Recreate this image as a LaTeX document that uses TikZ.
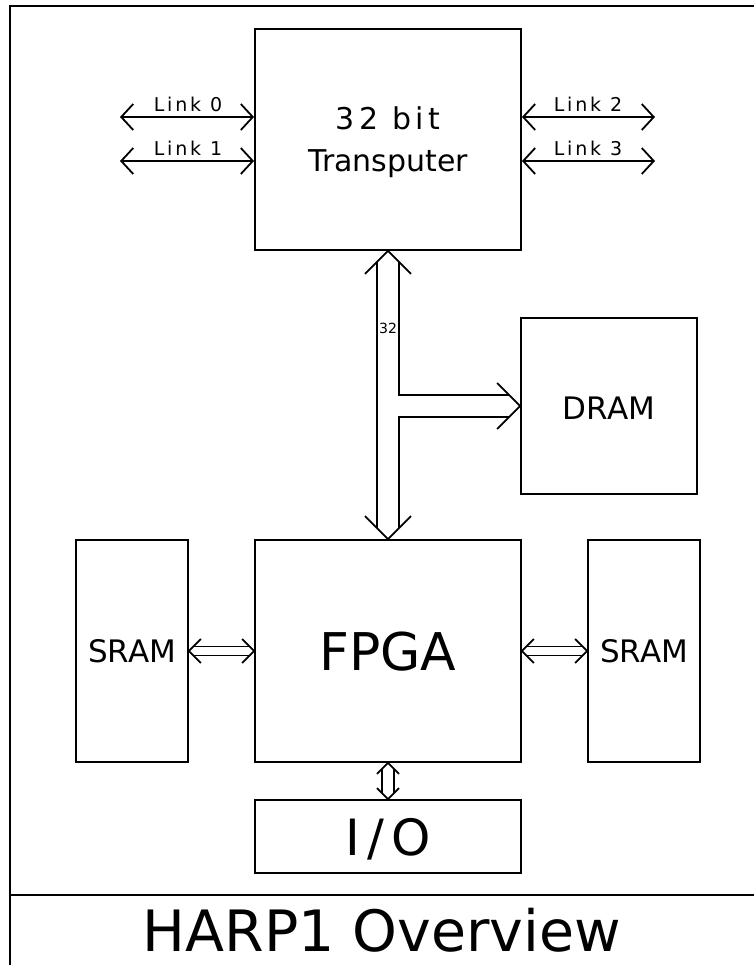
\documentclass[tikz,border=0pt]{standalone}
\usepackage{fontspec}
\setmainfont{DejaVu Sans}
\newfontfamily\lsfont[LetterSpace=15]{DejaVu Sans}
\usetikzlibrary{arrows.meta,calc}
\tikzset{
  blk/.style={draw,line width=1.9pt,inner sep=0pt,rectangle},
  txt/.style={anchor=base,inner sep=0pt},
  linkarr/.style={line width=1.8pt,{Straight Barb[length=12pt,width=26pt]}-{Straight Barb[length=12pt,width=26pt]}},
  hollow/.style={line width=1.8pt},
  frame/.style={line width=2pt}
}
\newcommand{\fs}[1]{\fontsize{#1}{#1}\selectfont}
\begin{document}
\begin{tikzpicture}[x=1pt,y=-1pt]
\useasboundingbox (0,0) rectangle (754,965);
% frame
\draw[frame] (10,965) -- (10,6) -- (754,6);
\draw[frame] (10,895) -- (754,895);
% blocks
\node[blk,minimum width=266pt,minimum height=221pt] (tp) at (388,139.5) {};
\node[blk,minimum width=176pt,minimum height=176pt] (dram) at (609,406) {};
\node[blk,minimum width=266pt,minimum height=222pt] (fpga) at (388,651) {};
\node[blk,minimum width=112pt,minimum height=222pt] (sl) at (132,651) {};
\node[blk,minimum width=112pt,minimum height=222pt] (sr) at (644,651) {};
\node[blk,minimum width=266pt,minimum height=73pt] (io) at (388,836.5) {};
% texts
\node[txt] (t32) at (388,130) {\lsfont\fs{30}32 bit};
\node[txt] (ttp) at (388,172) {\fs{30}Transputer};
\node[txt] (tdram) at (609,419) {\fs{31}DRAM};
\node[txt] (tsl) at (132,662) {\fs{31}SRAM};
\node[txt] (tsr) at (644,662) {\fs{31}SRAM};
\node[txt] (tfpga) at (388,670) {\fs{52}FPGA};
\node[txt] (tio) at (388,855) {\lsfont\fs{50}I/O};
\node[txt] (title) at (382,951) {\fs{57}HARP1 Overview};
\node[txt] (bus) at (388,333) {\fs{14}32};
% links
\coordinate (l0) at (120,117);
\coordinate (l1) at (120,161);
\coordinate (l2) at (655,117);
\coordinate (l3) at (655,161);
\draw[linkarr] (l0) -- (l0 -| tp.west);
\draw[linkarr] (l1) -- (l1 -| tp.west);
\draw[linkarr] (l2 -| tp.east) -- (l2);
\draw[linkarr] (l3 -| tp.east) -- (l3);
\node[txt] (tl0) at (188,112) {\lsfont\fs{19}Link 0};
\node[txt] (tl1) at (188,156) {\lsfont\fs{19}Link 1};
\node[txt] (tl2) at (588,112) {\lsfont\fs{19}Link 2};
\node[txt] (tl3) at (588,156) {\lsfont\fs{19}Link 3};
% bus transputer - fpga - dram
\draw[hollow] ($(tp.south)+(-23,23)$) -- (tp.south) -- ($(tp.south)+(23,23)$);
\draw[hollow] ($(fpga.north)+(-23,-23)$) -- (fpga.north) -- ($(fpga.north)+(23,-23)$);
\draw[hollow] ($(tp.south)+(-11,11)$) -- ($(fpga.north)+(-11,-11)$);
\draw[hollow] ($(tp.south)+(11,11)$) -- ($(tp.south |- dram.west)+(11,-11)$) -- ($(dram.west)+(-11,-11)$);
\draw[hollow] ($(dram.west)+(-11,11)$) -- ($(tp.south |- dram.west)+(11,11)$) -- ($(fpga.north)+(11,-11)$);
\draw[hollow] ($(dram.west)+(-23,-23)$) -- (dram.west) -- ($(dram.west)+(-23,23)$);
% sram left
\draw[hollow] ($(sl.east)+(12,-12)$) -- (sl.east) -- ($(sl.east)+(12,12)$);
\draw[hollow] ($(fpga.west)+(-12,-12)$) -- (fpga.west) -- ($(fpga.west)+(-12,12)$);
\draw[hollow] ($(sl.east)+(4.5,-4.5)$) -- ($(fpga.west)+(-4.5,-4.5)$);
\draw[hollow] ($(sl.east)+(4.5,4.5)$) -- ($(fpga.west)+(-4.5,4.5)$);
% sram right
\draw[hollow] ($(fpga.east)+(12,-12)$) -- (fpga.east) -- ($(fpga.east)+(12,12)$);
\draw[hollow] ($(sr.west)+(-12,-12)$) -- (sr.west) -- ($(sr.west)+(-12,12)$);
\draw[hollow] ($(fpga.east)+(4.5,-4.5)$) -- ($(sr.west)+(-4.5,-4.5)$);
\draw[hollow] ($(fpga.east)+(4.5,4.5)$) -- ($(sr.west)+(-4.5,4.5)$);
% io
\draw[hollow] ($(fpga.south)+(-11,11)$) -- (fpga.south) -- ($(fpga.south)+(11,11)$);
\draw[hollow] ($(io.north)+(-11,-11)$) -- (io.north) -- ($(io.north)+(11,-11)$);
\draw[hollow] ($(fpga.south)+(-6,6)$) -- ($(io.north)+(-6,-6)$);
\draw[hollow] ($(fpga.south)+(6,6)$) -- ($(io.north)+(6,-6)$);
\end{tikzpicture}
\end{document}
